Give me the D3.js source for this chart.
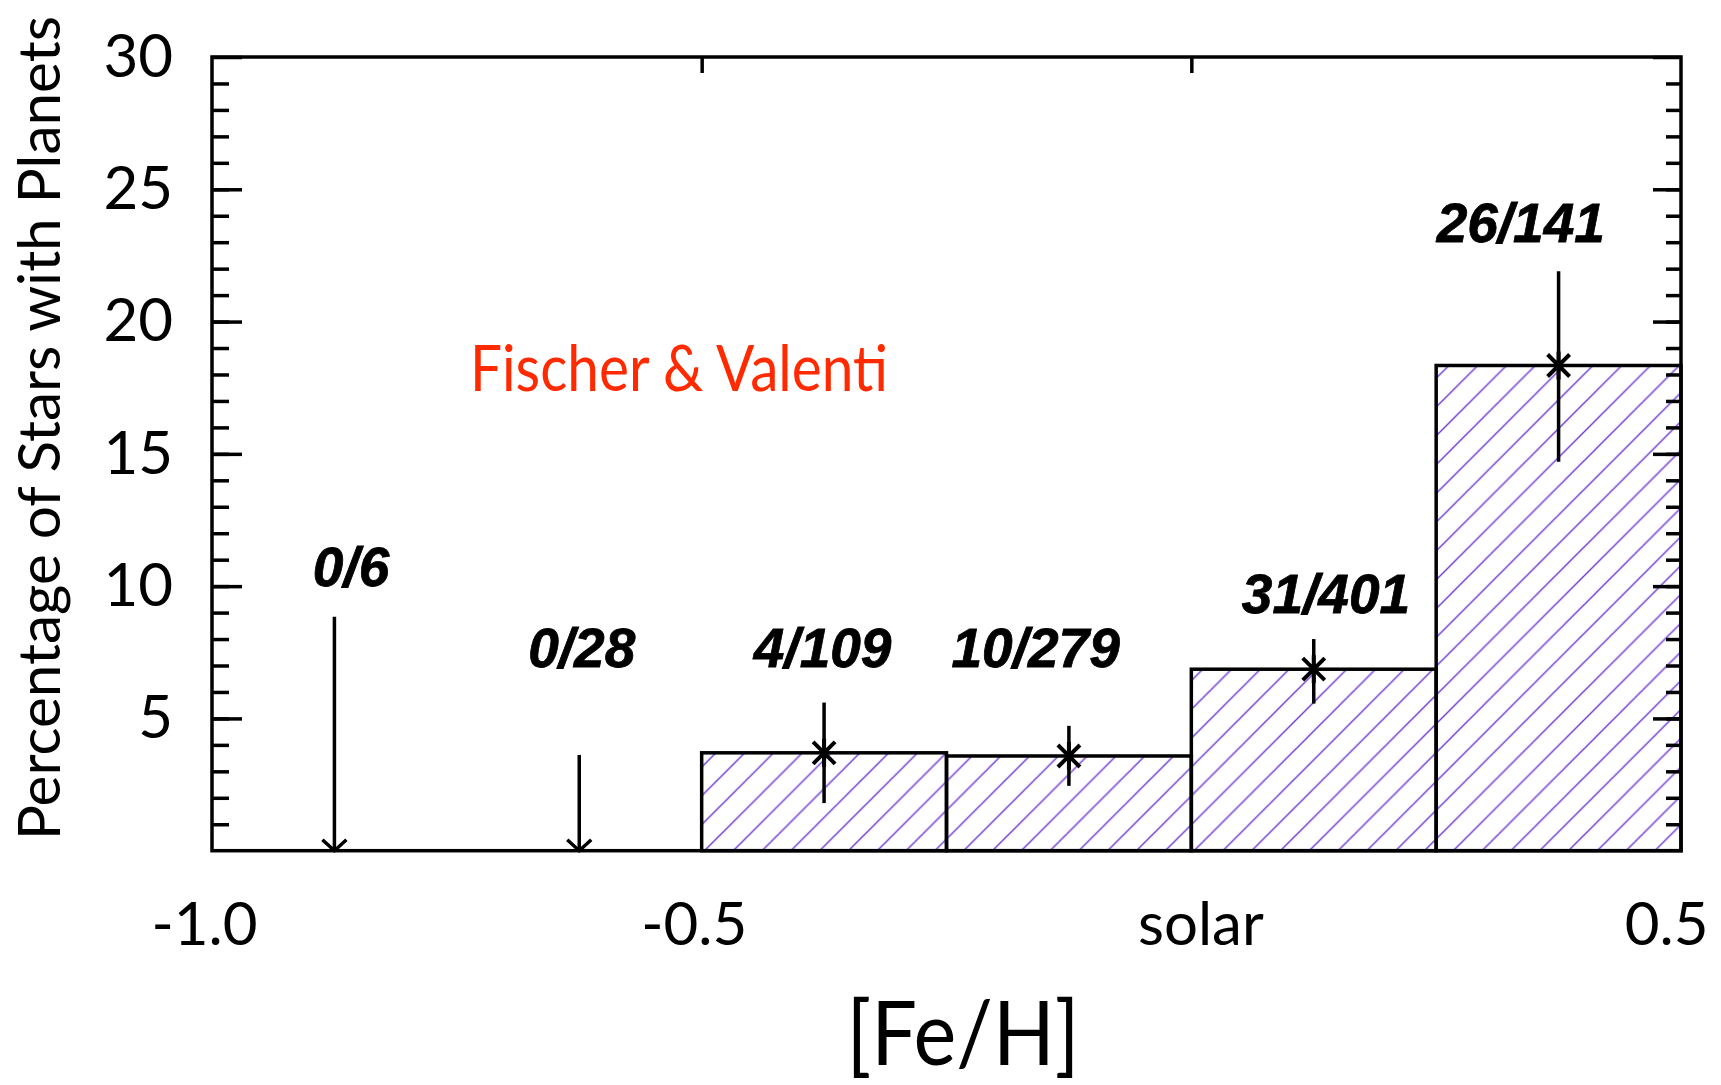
<!DOCTYPE html>
<html>
<head>
<meta charset="utf-8">
<script src="https://cdn.jsdelivr.net/npm/d3@7"></script>
<style>
  body { margin: 0; background: #fff; }
</style>
</head>
<body>
<svg id="chart"></svg>
<script>
// taux de planètes selon la métallicité (Fischer & Valenti)
var binLo = [-1.0, -0.75, -0.5, -0.25, 0.0, 0.25];
var binHi = [-0.75, -0.5, -0.25, 0.0, 0.25, 0.5];
var counts = ["0/6", "0/28", "4/109", "10/279", "31/401", "26/141"];
var percent = [0, 0, 3.7, 3.58, 6.86, 18.34];
var errLow = [0, 0, 1.8, 2.45, 5.56, 14.7];
var errHigh = [8.84, 3.62, 5.6, 4.72, 8.0, 21.9];
// position des étiquettes, en unités des données
var labelX = [-0.858, -0.6225, -0.3765, -0.159, 0.1375, 0.3364];
var labelY = [10.0, 6.95, 6.95, 6.95, 9.0, 23.0];

var xTicks = [-1.0, -0.5, 0, 0.5];
var xTickLabels = ["-1.0", "-0.5", "solar", "0.5"];
var yMajor = [5, 10, 15, 20, 25, 30];
var yMinor = d3.range(1, 30);

var widthSvg = 1721, heightSvg = 1085;
// attention : "top" est réservé par window
var plotLeft = 212, plotRight = 1681, plotTop = 57, plotBottom = 850.7;
var font = "Lato, 'Open Sans', sans-serif";

var svg = d3.select("#chart")
  .attr("width", widthSvg)
  .attr("height", heightSvg);

var x = d3.scaleLinear().domain([-1.0, 0.5]).range([plotLeft, plotRight]);
var y = d3.scaleLinear().domain([0, 30]).range([plotBottom, plotTop]);

var bins = binLo.map((lo, i) => ({
  lo: lo,
  hi: binHi[i],
  mid: (lo + binHi[i]) / 2,
  label: counts[i],
  value: percent[i],
  low: errLow[i],
  high: errHigh[i],
  lx: labelX[i],
  ly: labelY[i]
}));

// hachures violettes, sens "/"
var hs = 28.8;
var defs = svg.append("defs");
defs.append("pattern")
  .attr("id", "hatch")
  .attr("patternUnits", "userSpaceOnUse")
  .attr("width", hs)
  .attr("height", hs)
  .append("path")
  .attr("d", `M0,${hs} L${hs},0 M-3,3 L3,-3 M${hs - 3},${hs + 3} L${hs + 3},${hs - 3}`)
  .attr("stroke", "#7442d4")
  .attr("stroke-width", 1.5);

// barres
svg.append("g")
  .selectAll("rect")
  .data(bins.filter(d => d.value > 0))
  .join("rect")
  .attr("x", d => x(d.lo))
  .attr("y", d => y(d.value))
  .attr("width", d => x(d.hi) - x(d.lo))
  .attr("height", d => y(0) - y(d.value))
  .attr("fill", "url(#hatch)")
  .attr("stroke", "#000")
  .attr("stroke-width", 3.5);

// barres d'erreur
var err = svg.append("g")
  .attr("stroke", "#000")
  .attr("stroke-width", 3.5)
  .attr("fill", "none");

err.selectAll("line.err")
  .data(bins)
  .join("line")
  .attr("class", "err")
  .attr("x1", d => x(d.mid))
  .attr("x2", d => x(d.mid))
  .attr("y1", d => y(d.high))
  .attr("y2", d => y(d.low));

// limites supérieures : flèche vers le bas
err.selectAll("path.arrow")
  .data(bins.filter(d => d.value == 0))
  .join("path")
  .attr("class", "arrow")
  .attr("d", d => `M${x(d.mid) - 12},${y(0) - 11} L${x(d.mid)},${y(0)} L${x(d.mid) + 12},${y(0) - 11}`);

// astérisques
err.selectAll("path.star")
  .data(bins.filter(d => d.value > 0))
  .join("path")
  .attr("class", "star")
  .attr("stroke-width", 4)
  .attr("d", d => {
    var cx = x(d.mid), cy = y(d.value), s = 11;
    return `M${cx - s},${cy - s} L${cx + s},${cy + s} M${cx - s},${cy + s} L${cx + s},${cy - s} M${cx},${cy - 14} L${cx},${cy + 14}`;
  });

// étiquettes n/N
svg.append("g")
  .attr("font-family", "'Liberation Sans', Arial, sans-serif")
  .attr("font-weight", "bold")
  .attr("font-style", "italic")
  .attr("font-size", 55)
  .attr("text-anchor", "middle")
  .selectAll("text")
  .data(bins)
  .join("text")
  .attr("x", d => x(d.lx))
  .attr("y", d => y(d.ly))
  .attr("stroke", "#000")
  .attr("stroke-width", 0.8)
  .text(d => d.label);

// cadre
svg.append("rect")
  .attr("x", plotLeft)
  .attr("y", plotTop)
  .attr("width", plotRight - plotLeft)
  .attr("height", plotBottom - plotTop)
  .attr("fill", "none")
  .attr("stroke", "#000")
  .attr("stroke-width", 3.5);

function styleAxis(g) {
  g.select(".domain").remove();
  g.selectAll(".tick line").attr("stroke", "#000").attr("stroke-width", 3.5);
}

// axe gauche : petites graduations
svg.append("g")
  .attr("transform", `translate(${plotLeft},0)`)
  .call(d3.axisLeft(y).tickValues(yMinor).tickSize(-17).tickFormat(""))
  .call(styleAxis);

// axe gauche : grandes graduations + valeurs
svg.append("g")
  .attr("transform", `translate(${plotLeft},0)`)
  .call(d3.axisLeft(y).tickValues(yMajor).tickSize(-30).tickPadding(39))
  .call(styleAxis)
  .call(g => g.selectAll("text")
    .attr("font-family", font)
    .attr("font-size", 60)
    .attr("fill", "#000"));

// axe droit
svg.append("g")
  .attr("transform", `translate(${plotRight},0)`)
  .call(d3.axisRight(y).tickValues(yMinor).tickSize(-15).tickFormat(""))
  .call(styleAxis);
svg.append("g")
  .attr("transform", `translate(${plotRight},0)`)
  .call(d3.axisRight(y).tickValues(yMajor).tickSize(-28).tickFormat(""))
  .call(styleAxis);

// axe du haut
svg.append("g")
  .attr("transform", `translate(0,${plotTop})`)
  .call(d3.axisTop(x).tickValues([-0.5, 0]).tickSize(-16).tickFormat(""))
  .call(styleAxis);

// axe du bas
svg.append("g")
  .attr("transform", `translate(0,${plotBottom})`)
  .call(d3.axisBottom(x).tickValues(xTicks).tickSize(0).tickPadding(52)
    .tickFormat((d, i) => xTickLabels[i]))
  .call(styleAxis)
  .call(g => g.selectAll("text")
    .attr("font-family", font)
    .attr("font-size", 60)
    .attr("fill", "#000"))
  // la dernière étiquette reste dans la page
  .call(g => g.selectAll(".tick").filter(d => d == 0.5).select("text")
    .attr("text-anchor", "end")
    .attr("dx", 27))
  .call(g => g.selectAll(".tick").filter(d => d == 0).select("text")
    .attr("dx", 9))
  .call(g => g.selectAll(".tick").filter(d => d < 0).select("text")
    .attr("dx", -8));

// titres
svg.append("text")
  .attr("transform", "translate(60,428) rotate(-90)")
  .attr("text-anchor", "middle")
  .attr("font-family", font)
  .attr("font-size", 58)
  .attr("textLength", 824)
  .attr("lengthAdjust", "spacingAndGlyphs")
  .text("Percentage of Stars with Planets");

svg.append("text")
  .attr("x", 963)
  .attr("y", 1065)
  .attr("text-anchor", "middle")
  .attr("font-family", font)
  .attr("font-size", 90)
  .attr("textLength", 233)
  .attr("lengthAdjust", "spacingAndGlyphs")
  .text("[Fe/H]");

svg.append("text")
  .attr("x", 470)
  .attr("y", 391)
  .attr("font-family", font)
  .attr("font-size", 64)
  .attr("fill", "#ff2a00")
  .attr("textLength", 418)
  .attr("lengthAdjust", "spacingAndGlyphs")
  .text("Fischer & Valenti");
</script>
</body>
</html>
